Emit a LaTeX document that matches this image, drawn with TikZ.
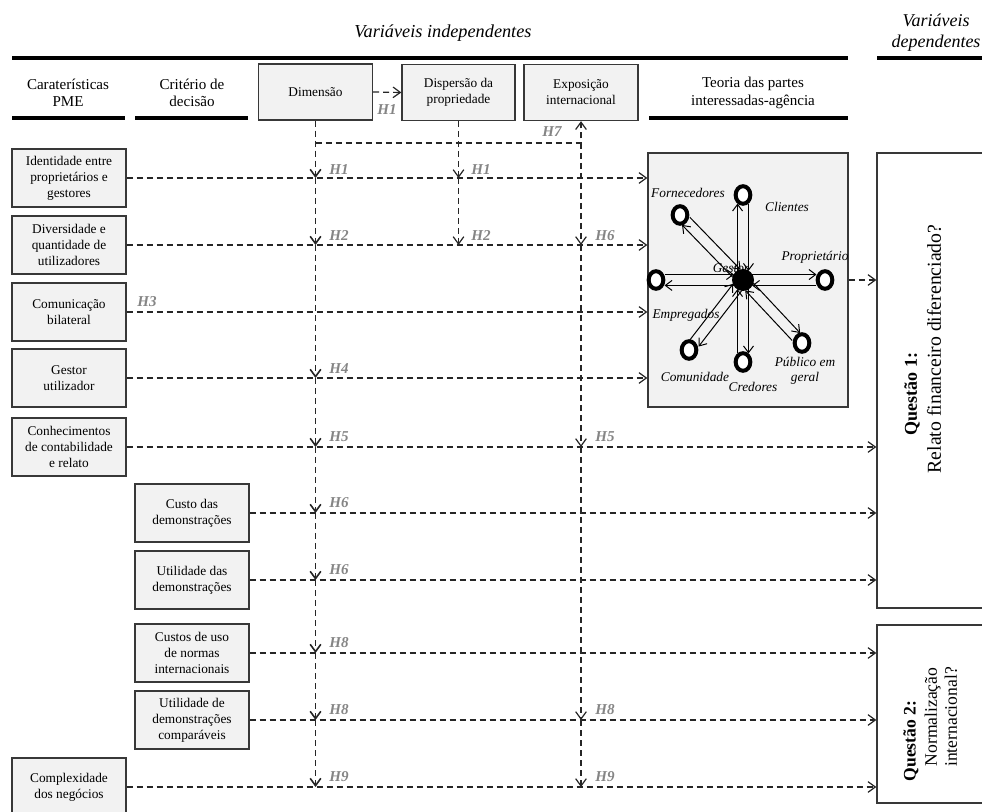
\documentclass[tikz,border=0pt]{standalone}
\usepackage{fontspec}
\setmainfont{Liberation Serif}
\usetikzlibrary{arrows.meta,calc,shapes.geometric}
\definecolor{boxfill}{HTML}{F2F2F2}
\definecolor{boxline}{HTML}{383838}
\definecolor{hgray}{HTML}{858585}
\definecolor{dashcol}{HTML}{262626}
\begin{document}
\begin{tikzpicture}[x=0.75pt,y=-0.75pt,
  >={Straight Barb[length=5.5pt,width=8pt]},
  vbox/.style={draw=boxline,fill=boxfill,line width=1pt,align=center,inner sep=0pt,
     minimum width=85.5pt,minimum height=43.5pt,font=\fontsize{10}{12}\selectfont},
  topbox/.style={vbox,minimum height=42pt},
  colhead/.style={align=center,font=\fontsize{11.3}{13}\selectfont},
  rule/.style={line width=2.4pt},
  flow/.style={draw=dashcol,line width=0.9pt,dash pattern=on 4.5pt off 3pt,->},
  vflow/.style={flow,line width=1.2pt},
  hyp/.style={text=hgray,font=\fontsize{11.3}{12}\selectfont\bfseries\itshape,inner sep=0pt},
  qbox/.style={draw=boxline,fill=white,line width=1pt,minimum width=92.25pt,inner sep=0pt},
  qtext/.style={rotate=90,inner sep=0pt,align=center},
  hub/.style={circle,fill=black,minimum size=16.5pt,inner sep=0pt},
  ring/.style={ellipse,draw=black,fill=white,line width=3pt,minimum width=11pt,minimum height=13.2pt,inner sep=0pt},
  who/.style={font=\fontsize{10}{11.5}\selectfont\itshape,inner sep=0pt,align=center},
  spoke/.style={line width=0.75pt,->,>={Straight Barb[length=5pt,width=7.5pt]}}
]
\useasboundingbox (0,0) rectangle (982,812);

% headings and rules
\node[font=\fontsize{13.7}{16}\selectfont\itshape] (indep) at (443,33) {Variáveis independentes};
\node[font=\fontsize{13.5}{16}\selectfont\itshape,align=center] (dep) at (936,33) {Variáveis\\dependentes};
\draw[rule] (12,58) -- (848,58);
\draw[rule] (877,58) -- (990,58);
\node[colhead] (hpme) at (68,93) {Caraterísticas\\PME};
\node[colhead] (hcrit) at (192,93) {Critério de\\decisão};
\node[colhead] (hteo) at (753,93) {Teoria das partes\\interessadas-agência};
\draw[rule] (12,118) -- (125,118);
\draw[rule] (135,118) -- (248,118);
\draw[rule] (649,118) -- (848,118);

% independent variables at the top
\node[topbox] (dim) at (315.5,92) {Dimensão};
\node[topbox,minimum width=84.75pt] (disp) at (458.5,92.5) {Dispersão da\\propriedade};
\node[topbox] (expo) at (581,92.5) {Exposição\\internacional};

% SME characteristics and decision criteria
\node[vbox] (ident) at (69,178) {Identidade entre\\proprietários e\\gestores};
\node[vbox] (divers) at (69,245) {Diversidade e\\quantidade de\\utilizadores};
\node[vbox] (comun) at (69,312) {Comunicação\\bilateral};
\node[vbox] (gestor) at (69,378) {Gestor\\utilizador};
\node[vbox] (conh) at (69,447) {Conhecimentos\\de contabilidade\\e relato};
\node[vbox] (custo) at (192,513) {Custo das\\demonstrações};
\node[vbox] (utild) at (192,580) {Utilidade das\\demonstrações};
\node[vbox] (custos) at (192,653) {Custos de uso\\de normas\\internacionais};
\node[vbox] (utilc) at (192,720) {Utilidade de\\demonstrações\\comparáveis};
\node[vbox] (compl) at (69,787) {Complexidade\\dos negócios};

% stakeholder panel and research questions
\node[draw=boxline,fill=boxfill,line width=1pt,minimum width=150pt,minimum height=190.5pt,inner sep=0pt] (stake) at (748,280) {};
\node[qbox,minimum height=341.25pt] (q1) at (938.5,380.5) {};
\node[qbox,minimum height=133.5pt] (q2) at (938.5,714) {};
\node[qtext,font=\fontsize{13.5}{16}\selectfont\bfseries] (q1a) at (912,394) {Questão 1:};
\node[qtext,font=\fontsize{14.8}{17}\selectfont] (q1b) at (934,349) {Relato financeiro diferenciado?};
\node[qtext,font=\fontsize{13.2}{15}\selectfont\bfseries] (q2a) at (911,741) {Questão 2:};
\node[qtext,font=\fontsize{13.2}{15}\selectfont] (q2b) at (941,717) {Normalização\\internacional?};

% horizontal hypotheses
\draw[flow] (dim.east) -- (disp.west);
\foreach \n in {ident,divers,comun,gestor} \draw[flow] (\n.east) -- (\n.east -| stake.west);
\foreach \n in {conh,custo,utild} \draw[flow] (\n.east) -- (\n.east -| q1.west);
\foreach \n in {custos,utilc,compl} \draw[flow] (\n.east) -- (\n.east -| q2.west);
\draw[flow] (stake.east) -- (q1.west |- stake.east);

% size moderates every row
\draw[vflow] (dim.south) -- (dim.south |- ident.east);
\foreach \a/\b in {ident/divers,divers/gestor,gestor/conh,conh/custo,custo/utild,utild/custos,custos/utilc,utilc/compl}
  \draw[vflow] (dim.south |- \a.east) -- (dim.south |- \b.east);

% ownership dispersion
\draw[flow] (disp.south) -- (disp.south |- ident.east);
\draw[flow] (disp.south |- ident.east) -- (disp.south |- divers.east);

% size -> international exposure (H7) and exposure downwards
\coordinate (h7) at (0,143);
\draw[flow] (dim.south |- h7) -- (expo.south |- h7) -- (expo.south);
\draw[flow] (expo.south |- h7) -- (expo.south |- divers.east);
\foreach \a/\b in {divers/conh,conh/utilc,utilc/compl}
  \draw[flow] (expo.south |- \a.east) -- (expo.south |- \b.east);

% hypothesis labels
\node[hyp] (hA) at (387,110) {H1};
\node[hyp] (hB) at (339,170) {H1};
\node[hyp] (hC) at (481,170) {H1};
\node[hyp] (hD) at (339,236) {H2};
\node[hyp] (hE) at (481,236) {H2};
\node[hyp] (hF) at (605,236) {H6};
\node[hyp] (hG) at (147,302) {H3};
\node[hyp] (hH) at (339,369) {H4};
\node[hyp] (hI) at (339,437) {H5};
\node[hyp] (hJ) at (605,437) {H5};
\node[hyp] (hK) at (339,503) {H6};
\node[hyp] (hL) at (339,570) {H6};
\node[hyp] (hM) at (339,643) {H8};
\node[hyp] (hN) at (339,710) {H8};
\node[hyp] (hO) at (605,710) {H8};
\node[hyp] (hP) at (339,777) {H9};
\node[hyp] (hQ) at (605,777) {H9};
\node[hyp] (hR) at (552,132) {H7};

% stakeholder star
\coordinate (G) at (743,280);
\coordinate (cli) at (743,195);
\coordinate (forn) at (680,215);
\coordinate (prop) at (825,280);
\coordinate (emp) at (656,280);
\coordinate (pub) at (802,343);
\coordinate (cred) at (743,362);
\coordinate (com) at (689,350);
\node[who] (lgest) at (731,268) {Gestor};
\foreach \o in {cli,forn,prop,emp,pub,cred,com}{
  \draw[spoke,shorten <=6.8pt,shorten >=6.4pt] ($(G)!4.1pt!90:(\o)$) -- ($(\o)!4.1pt!-90:(G)$);
  \draw[spoke,shorten <=6.4pt,shorten >=6.8pt] ($(\o)!4.1pt!90:(G)$) -- ($(G)!4.1pt!-90:(\o)$);
}
\node[hub] (gdot) at (G) {};
\foreach \o in {cli,forn,prop,emp,pub,cred,com} \node[ring] (r\o) at (\o) {};
\node[who] (lforn) at (688,193) {Fornecedores};
\node[who] (lcli) at (787,207) {Clientes};
\node[who] (lprop) at (815,257) {Proprietário};
\node[who] (lemp) at (686,315) {Empregados};
\node[who] (lcom) at (695,377) {Comunidade};
\node[who] (lcred) at (753,387) {Credores};
\node[who] (lpub) at (805,371) {Público em\\geral};
\end{tikzpicture}
\end{document}
